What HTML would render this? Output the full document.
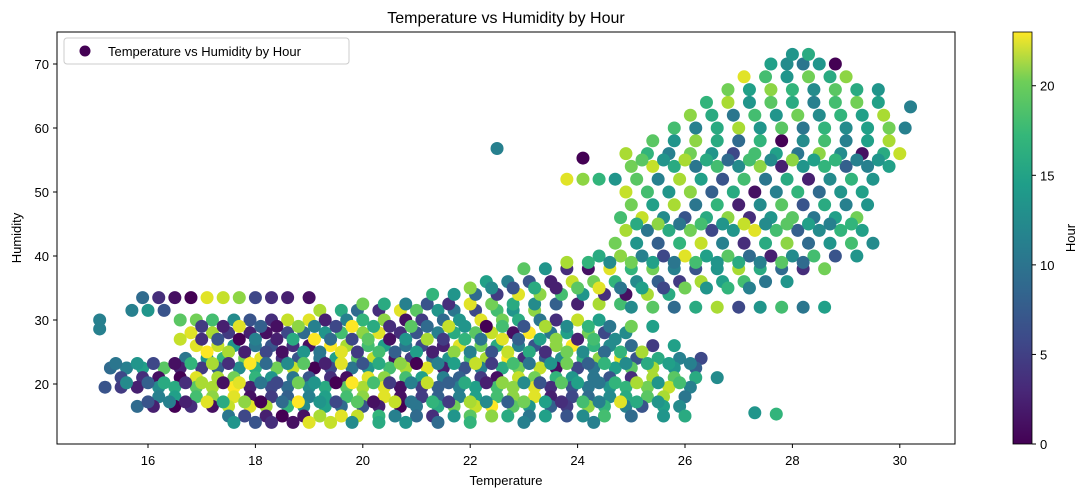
<!DOCTYPE html>
<html><head><meta charset="utf-8"><style>
body{margin:0;background:#fff;font-family:"Liberation Sans",sans-serif;}
svg text{font-family:"Liberation Sans",sans-serif;fill:#000;}
</style></head><body>
<svg id="c" width="1084" height="493">
<defs><linearGradient id="vir" x1="0" y1="1" x2="0" y2="0">
<stop offset="0" stop-color="#440154"/><stop offset="0.13" stop-color="#482878"/><stop offset="0.25" stop-color="#3e4989"/><stop offset="0.38" stop-color="#31688e"/><stop offset="0.5" stop-color="#26828e"/><stop offset="0.63" stop-color="#1f9e89"/><stop offset="0.75" stop-color="#35b779"/><stop offset="0.88" stop-color="#6ece58"/><stop offset="1" stop-color="#fde725"/></linearGradient>
<clipPath id="pc"><rect x="57" y="32" width="898" height="412"/></clipPath></defs>
<text x="506" y="23" font-size="16" text-anchor="middle">Temperature vs Humidity by Hour</text>
<g id="pts" clip-path="url(#pc)"></g>
<rect x="57" y="32" width="898" height="412" fill="none" stroke="#000" stroke-width="1"/>
<g id="ax"></g>
<text x="506" y="485" font-size="13" text-anchor="middle">Temperature</text>
<text x="21" y="238" font-size="13" text-anchor="middle" transform="rotate(-90 21 238)">Humidity</text>
<g>
<rect x="64" y="38" width="285" height="26" rx="3" fill="#fff" stroke="#ccc"/>
<circle cx="85" cy="51" r="5.5" fill="#440154"/>
<text x="108" y="56" font-size="13">Temperature vs Humidity by Hour</text></g>
<rect x="1013" y="32" width="19" height="412" fill="url(#vir)" stroke="#000" stroke-width="0.8"/>
<g id="cb"></g>
<text x="1075" y="238" font-size="13" text-anchor="middle" transform="rotate(-90 1075 238)">Hour</text>
</svg>
<script>
const rowHum=[33.5,31.5,30,28,26,24,22.5,21,19.5,18,16.5,15,14,32.5,34,36,38,40,32,42,44,46,48,50,52,54,56,58,60,62,64,66,68,70,71.5,25,27,29,17.2,20.2,23.2,45,55,39,35];
const rowTemps=[
[15.9,16.2,16.5,16.8,17.1,17.4,17.7,18.0,18.3,18.6,19.0],
[15.7,16.0,16.3,19.2,19.6,19.9,20.3,20.7,21.0,21.4,21.7,22.1,22.5,22.8,23.2],
[15.1,16.6,16.9,17.2,17.6,17.9,18.3,18.6,19.0,19.3,19.7,20.0,20.4,20.8,21.1,21.5,21.8,22.2,22.6,22.9,23.3,23.6,24.0,24.4],
[16.8,17.2,17.5,17.9,18.2,18.6,18.9,19.3,19.6,20.0,20.3,20.7,21.0,21.4,21.7,22.1,22.4,22.8,23.1,23.5,23.8,24.2,24.5,24.9],
[16.9,17.3,17.6,18.0,18.3,18.7,19.0,19.4,19.7,20.1,20.4,20.8,21.1,21.5,21.8,22.2,22.5,22.9,23.2,23.6,23.9,24.3,24.6,25.0,25.4,25.8],
[16.7,17.1,17.4,17.8,18.1,18.5,18.8,19.2,19.5,19.9,20.2,20.6,20.9,21.3,21.6,22.0,22.3,22.7,23.0,23.4,23.7,24.1,24.4,24.8,25.1,25.5,25.9,26.3],
[15.3,15.6,15.9,16.3,16.6,17.0,17.3,17.7,18.0,18.4,18.7,19.1,19.4,19.8,20.1,20.5,20.8,21.2,21.5,21.9,22.2,22.6,22.9,23.3,23.6,24.0,24.3,24.7,25.0,25.4,25.8,26.2],
[15.5,15.9,16.2,16.6,16.9,17.3,17.6,18.0,18.3,18.7,19.0,19.4,19.7,20.1,20.4,20.8,21.1,21.5,21.8,22.2,22.5,22.9,23.2,23.6,23.9,24.3,24.6,25.0,25.4,25.8,26.2,26.6],
[15.2,15.5,15.8,16.2,16.5,16.9,17.2,17.6,17.9,18.3,18.6,19.0,19.3,19.7,20.0,20.4,20.7,21.1,21.4,21.8,22.1,22.5,22.8,23.2,23.5,23.9,24.2,24.6,24.9,25.3,25.7,26.1],
[16.2,16.5,16.9,17.2,17.6,17.9,18.3,18.6,19.0,19.3,19.7,20.0,20.4,20.7,21.1,21.4,21.8,22.1,22.5,22.8,23.2,23.5,23.9,24.2,24.6,24.9,25.3,25.6,26.0],
[15.8,16.1,16.5,16.8,17.2,17.5,17.9,18.2,18.6,18.9,19.3,19.6,20.0,20.3,20.7,21.0,21.4,21.7,22.1,22.4,22.8,23.1,23.5,23.8,24.2,24.5,24.9,25.2,25.6,25.9],
[17.5,17.8,18.2,18.5,18.9,19.2,19.6,19.9,20.3,20.6,21.0,21.3,21.7,22.0,22.4,22.7,23.1,23.4,23.8,24.1,24.5,25.0,25.6,26.0],
[17.6,18.0,18.3,18.7,19.0,19.4,19.8,20.3,20.8,21.4,22.0,23.0,24.3],
[20.0,20.4,20.8,21.2,21.6,22.0,22.4,22.8,23.2,23.6,24.0,24.4,24.8],
[21.3,21.7,22.1,22.5,22.9,23.3,23.7,24.1,24.5,24.9,25.3,25.7],
[22.3,22.7,23.1,23.5,23.9,24.3,24.7,25.1,25.5,25.9,26.3,26.7,27.1,27.5,27.9],
[23.0,23.4,23.8,24.2,24.6,25.0,25.4,25.8,26.2,26.6,27.0,27.4,27.8,28.2,28.6],
[24.4,24.8,25.2,25.6,26.0,26.4,26.8,27.2,27.6,28.0,28.4,28.8,29.2],
[25.0,25.4,25.8,26.2,26.6,27.0,27.4,27.8,28.2,28.6],
[24.7,25.1,25.5,25.9,26.3,26.7,27.1,27.5,27.9,28.3,28.7,29.1,29.5],
[24.9,25.3,25.7,26.1,26.5,26.9,27.3,27.7,28.1,28.5,28.9,29.3],
[24.8,25.2,25.6,26.0,26.4,26.8,27.2,27.6,28.0,28.4,28.8,29.2],
[25.0,25.4,25.8,26.2,26.6,27.0,27.4,27.8,28.2,28.6,29.0,29.4],
[24.9,25.3,25.7,26.1,26.5,26.9,27.3,27.7,28.1,28.5,28.9,29.3],
[23.8,24.1,24.4,24.7,25.1,25.5,25.9,26.3,26.7,27.1,27.5,27.9,28.3,28.7,29.1,29.5],
[25.0,25.4,25.8,26.2,26.6,27.0,27.4,27.8,28.2,28.6,29.0,29.4,29.8],
[24.9,25.3,25.7,26.1,26.5,26.9,27.3,27.7,28.1,28.5,28.9,29.3,29.7,30.0],
[25.4,25.8,26.2,26.6,27.0,27.4,27.8,28.2,28.6,29.0,29.4,29.8],
[25.8,26.2,26.6,27.0,27.4,27.8,28.2,28.6,29.0,29.4,29.8,30.1],
[26.1,26.5,26.9,27.3,27.7,28.1,28.5,28.9,29.3,29.7],
[26.4,26.8,27.2,27.6,28.0,28.4,28.8,29.2,29.6],
[26.8,27.2,27.6,28.0,28.4,28.8,29.2,29.6],
[27.1,27.5,27.9,28.3,28.7,29.0],
[27.6,27.9,28.2,28.5,28.8],
[28.0,28.3],
[17.1,17.5,17.8,18.2,18.5,18.9,19.2,19.6,19.9,20.3,20.6,21.0,21.3,21.7,22.0,22.4,22.7,23.1,23.4,23.8,24.1,24.5,24.8,25.2],
[16.6,17.0,17.3,17.7,18.0,18.4,18.7,19.1,19.4,19.8,20.1,20.5,20.8,21.2,21.5,21.9,22.2,22.6,22.9,23.3,23.6,24.0,24.3,24.7],
[17.0,17.4,17.7,18.1,18.4,18.8,19.1,19.5,19.8,20.2,20.5,20.9,21.2,21.6,21.9,22.3,22.6,23.0,23.4,23.8,24.2,24.6,25.0,25.4],
[16.0,16.4,16.7,17.1,17.4,17.8,18.1,18.5,18.8,19.2,19.5,19.9,20.2,20.6,20.9,21.3,21.6,22.0,22.3,22.7,23.0,23.4,23.7,24.1,24.4,24.8,25.1,25.5],
[15.6,16.0,16.3,16.7,17.0,17.4,17.7,18.1,18.4,18.8,19.1,19.5,19.8,20.2,20.5,20.9,21.2,21.6,21.9,22.3,22.6,23.0,23.3,23.7,24.0,24.4,24.7,25.1,25.5,25.9],
[15.4,15.8,16.1,16.5,16.8,17.2,17.5,17.9,18.2,18.6,18.9,19.3,19.6,20.0,20.3,20.7,21.0,21.4,21.7,22.1,22.4,22.8,23.1,23.5,23.8,24.2,24.5,24.9,25.3,25.7,26.1],
[25.1,25.5,25.9,26.3,26.7,27.1,27.5,27.9,28.3,28.7,29.1],
[25.2,25.6,26.0,26.4,26.8,27.2,27.6,28.0,28.4,28.8,29.2,29.6],
[23.8,24.2,24.6,25.0,25.4,25.8,26.2,26.6,27.0,27.4,27.8,28.2],
[22.0,22.4,22.8,23.2,23.6,24.0,24.4,24.8,25.2,25.6,26.0,26.4,26.8,27.2]];
const rowHours=[
[8,3,1,0,22,21,19,5,3,2,1],
[10,12,6,20,14,8,3,22,17,12,9,5,16,12,19],
[10,17,18,16,11,6,3,21,22,2,10,15,19,1,4,8,12,22,18,14,9,3,21,13],
[22,20,4,2,1,5,8,12,16,19,22,3,6,10,14,17,21,1,23,9,13,18,5,11],
[22,21,12,9,6,3,1,23,20,16,13,9,5,2,22,18,14,10,6,19,23,15,11,8,4,13],
[9,12,15,18,22,3,6,9,13,17,21,1,4,8,12,16,20,23,3,7,11,15,19,22,6,14,10,5],
[8,10,13,17,2,4,7,11,14,18,21,0,5,9,12,16,20,22,2,6,10,14,18,21,1,5,9,13,17,20,12,7],
[5,3,1,0,22,20,18,15,12,9,6,3,1,22,19,16,13,10,7,4,1,21,18,15,12,9,6,3,20,17,14,11],
[6,4,2,11,14,17,20,23,2,5,8,11,14,17,20,22,1,4,7,10,13,16,19,22,3,6,9,12,15,18,21,10],
[10,13,16,19,22,1,4,7,10,13,16,19,22,1,4,7,10,13,16,19,22,2,5,8,11,14,17,20,9],
[8,2,0,3,1,21,22,20,15,11,13,8,6,2,0,9,14,18,21,23,17,12,7,4,19,15,10,6,13,11],
[9,5,2,0,1,20,22,21,15,10,8,3,12,17,19,14,9,13,6,11,16,8,12,14],
[12,6,3,1,22,21,11,14,12,8,15,10,10],
[18,14,10,6,3,22,18,14,11,7,2,20,16],
[15,12,8,4,22,19,16,12,3,1,20,14],
[13,10,6,2,21,18,15,11,7,4,20,13,16,9,12],
[17,12,3,1,22,15,18,10,6,12,20,14,8,3,18],
[14,19,10,5,22,13,17,8,2,11,16,6,12],
[11,17,8,14,20,5,12,16,9,13],
[18,12,7,15,21,10,3,14,19,8,12,16,11],
[20,9,14,18,5,12,22,16,7,11,15,13],
[16,21,11,6,14,19,3,12,17,9,13,18],
[18,13,20,9,15,2,11,17,6,14,10,12],
[21,16,12,19,7,14,1,10,15,8,12,13],
[22,19,15,12,17,10,20,13,6,16,9,14,2,11,15,12],
[18,21,14,9,16,11,19,2,12,15,7,10,13],
[20,15,10,18,12,5,16,13,9,19,11,1,14,21],
[17,12,19,14,8,15,0,11,16,10,13,20],
[16,10,14,20,12,17,9,15,11,13,18,10],
[19,14,9,16,12,18,11,15,13,20],
[15,20,12,17,14,10,16,18,13],
[18,13,19,15,11,17,14,12],
[22,16,12,18,14,19],
[13,11,9,12,0],
[12,14],
[23,20,2,5,1,12,9,22,4,16,7,13,2,19,10,6,21,14,3,18,11,8,15,20],
[21,3,6,0,10,2,14,23,8,5,17,1,12,20,4,15,9,22,7,13,19,2,16,11],
[4,2,22,7,1,19,10,5,23,14,3,17,8,21,12,0,16,6,20,11,15,9,18,13],
[6,10,2,22,14,19,0,8,23,12,5,17,1,21,9,15,4,20,11,7,18,13,3,16,10,22,14,12],
[11,7,14,3,20,1,22,9,5,18,12,0,23,16,4,10,21,7,14,2,19,11,6,17,13,9,15,20,12,16],
[9,12,5,1,15,20,3,23,8,11,17,2,22,6,14,19,0,10,13,21,4,16,9,12,18,7,15,11,14,13,10],
[14,19,9,16,12,21,11,17,13,10,15],
[17,12,20,14,8,16,11,19,13,15,10,12],
[20,15,11,18,13,9,16,12,14,10,17,8],
[19,11,6,14,2,17,22,9,13,5,18,12,15,10]];
const extraTemp=[22.5,15.1,27.3,27.7,30.2,24.1];
const extraHum=[56.8,28.6,15.5,15.3,63.3,55.3];
const extraHour=[10,10,12,15,10,0];
const xTicks=[16,18,20,22,24,26,28,30];
const yTicks=[20,30,40,50,60,70];
const cTicks=[0,5,10,15,20];

const X=t=>148+(t-16)*53.7, Y=h=>384-(h-20)*6.4, C=v=>444-v*412/23;
const vir=[[68,1,84],[72,40,120],[62,73,137],[49,104,142],[38,130,142],[31,158,137],[53,183,121],[110,206,88],[181,222,43],[253,231,37]];
function col(h){const f=Math.max(0,Math.min(1,h/23))*(vir.length-1),i=Math.min(Math.floor(f),vir.length-2),r=f-i,a=vir[i],b=vir[i+1];
return `rgb(${a.map((v,k)=>Math.round(v+(b[k]-v)*r)).join(',')})`;}
const NS='http://www.w3.org/2000/svg';
const g=document.getElementById('pts');
function dot(t,h,hr){const c=document.createElementNS(NS,'circle');c.setAttribute('cx',X(t));c.setAttribute('cy',Y(h));c.setAttribute('r',6.5);c.setAttribute('fill',col(hr));


g.appendChild(c);}
rowHum.forEach((h,i)=>rowTemps[i].forEach((t,j)=>dot(t,h,rowHours[i][j])));
extraTemp.forEach((t,i)=>dot(t,extraHum[i],extraHour[i]));
const ax=document.getElementById('ax');
function add(p,tag,attrs,txt){const e=document.createElementNS(NS,tag);for(const k in attrs)e.setAttribute(k,attrs[k]);if(txt!==undefined)e.textContent=txt;p.appendChild(e);return e;}
xTicks.forEach(v=>{add(ax,'line',{x1:X(v),x2:X(v),y1:444,y2:448,stroke:'#000'});
const t=add(ax,'text',{x:X(v),y:465,'font-size':13,'text-anchor':'middle'},v);

});
yTicks.forEach(v=>{add(ax,'line',{x1:53,x2:57,y1:Y(v),y2:Y(v),stroke:'#000'});
const t=add(ax,'text',{x:49,y:Y(v)+5,'font-size':13,'text-anchor':'end'},v);

});
const cb=document.getElementById('cb');
cTicks.forEach(v=>{add(cb,'line',{x1:1032,x2:1036,y1:C(v),y2:C(v),stroke:'#000'});
const t=add(cb,'text',{x:1040,y:C(v)+5,'font-size':13},v);

});
</script>
</body></html>
